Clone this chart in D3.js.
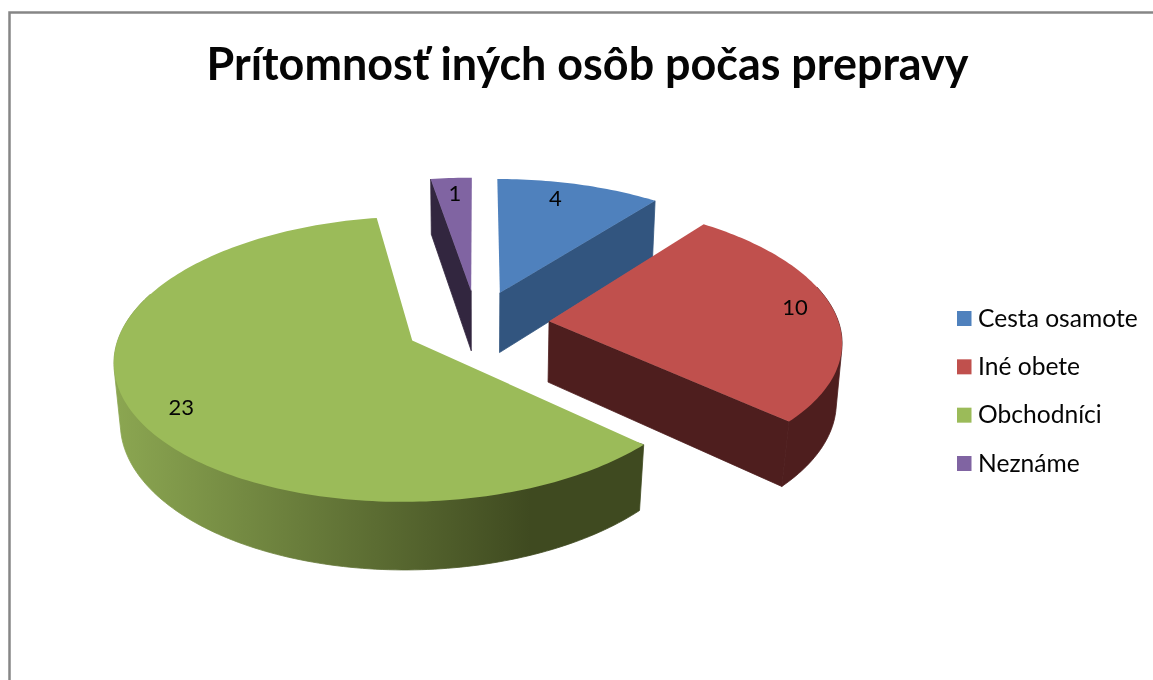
<!DOCTYPE html>
<html><head><meta charset="utf-8">
<script src="https://cdn.jsdelivr.net/npm/d3@7/dist/d3.min.js"></script>
<style>html,body{margin:0;padding:0;background:#fff}svg{display:block;filter:blur(0.35px)}text{font-family:Lato,"Open Sans",sans-serif;fill:#050505}</style>
</head><body><svg id="c" width="1153" height="680"></svg>
<script>
const titleText = "Prítomnosť iných osôb počas prepravy";
const categories = ["Cesta osamote","Iné obete","Obchodníci","Neznáme"];
const values = [4,10,23,1];
const topColors = ["#4f81bd","#c0504d","#9bbb59","#8064a2"];
const sideColors = ["#32557f","#4e1e1e","url(#greenSide)","#32263f"];
const labelShift = [-3.4,-1.8,-3.6,0.2];
const labelRadius = [0.84,0.87,0.855,0.84];
const W=1153,H=680;
const explode=0.25, persp=0.129;
const sx=d3.scaleLinear().domain([-1,1]).range([477-290,477+290]);
const sy=d3.scaleLinear().domain([-1,1]).range([324+136,324-136]);
const svg=d3.select("#c");
const defs=svg.append("defs");
const g=defs.append("linearGradient").attr("id","greenSide").attr("gradientUnits","userSpaceOnUse")
 .attr("x1",117).attr("x2",530).attr("y1",0).attr("y2",0);
g.append("stop").attr("offset",0).attr("stop-color","#8ba651");
g.append("stop").attr("offset",1).attr("stop-color","#3f4a20");
svg.append("path").attr("d",`M9.5,${H} V12.5 H${W}`).attr("fill","none").attr("stroke","#868686").attr("stroke-width",2.5);
svg.append("text").attr("x",587.5).attr("y",80).attr("text-anchor","middle").attr("font-weight",700).attr("font-size",44.9).text(titleText);

const pie=d3.pie().sort(null).value(d=>d);
const arcs=pie(values);
function P(X,Y,z){const s=1/(1+persp*Y);
 const inset=0.014-0.014*Math.min(Y,0);
 return [sx(0)+(sx(X)-sx(0))*s*(1-inset*z), sy(0)+(sy(Y)-sy(0))*s+(19+42*s)*z];}
const line=d3.line();
function vert(a){const m=(a.startAngle+a.endAngle)/2;return [explode*Math.sin(m),explode*Math.cos(m)];}
function rim(a,t){const v=vert(a);return [v[0]+Math.sin(t),v[1]+Math.cos(t)];}
function arcAngles(a0,a1){const n=Math.max(2,Math.ceil((a1-a0)/0.02));return d3.range(n+1).map(i=>a0+(a1-a0)*i/n);}
const order=[0,3,1,2];
const lo=75*Math.PI/180,hi=290*Math.PI/180;
order.forEach(i=>{const a=arcs[i],v=vert(a),c=sideColors[i];
 const p0=rim(a,a.startAngle),p1=rim(a,a.endAngle);
 const side=pts=>svg.append("path").attr("d",line(pts)+"Z").attr("fill",c).attr("stroke",c).attr("stroke-width",0.8);
 const poly=(A,B)=>side([P(A[0],A[1],0),P(B[0],B[1],0),P(B[0],B[1],1),P(A[0],A[1],1)]);
 if(i===3)poly(v,p0);
 if(i===0||i===1)poly(v,p1);
 const s=Math.max(a.startAngle,lo),e=Math.min(a.endAngle,hi);
 if(e>s){const t=arcAngles(s,e).map(x=>rim(a,x));
  side(d3.polygonHull(t.map(q=>P(q[0],q[1],0)).concat(t.map(q=>P(q[0],q[1],1)))));}
 const top=[P(v[0],v[1],0)].concat(arcAngles(a.startAngle,a.endAngle).map(x=>{const q=rim(a,x);return P(q[0],q[1],0);}));
 svg.append("path").attr("d",line(top)+"Z").attr("fill",topColors[i]);
});
arcs.forEach((a,i)=>{const v=vert(a),m=(a.startAngle+a.endAngle)/2+labelShift[i]*Math.PI/180;
 const q=P(v[0]+labelRadius[i]*Math.sin(m),v[1]+labelRadius[i]*Math.cos(m),0);
 svg.append("text").attr("x",q[0]).attr("y",q[1]+7).attr("text-anchor","middle").attr("font-size",22).text(a.data);
});
const ly=d3.scalePoint().domain(categories).range([318.5,463.5]);
categories.forEach((c,i)=>{
 svg.append("rect").attr("x",957).attr("y",ly(c)-7.5).attr("width",14.5).attr("height",15).attr("fill",topColors[i]);
 svg.append("text").attr("x",978).attr("y",ly(c)+8).attr("font-size",24.6).text(c);
});
</script></body></html>
